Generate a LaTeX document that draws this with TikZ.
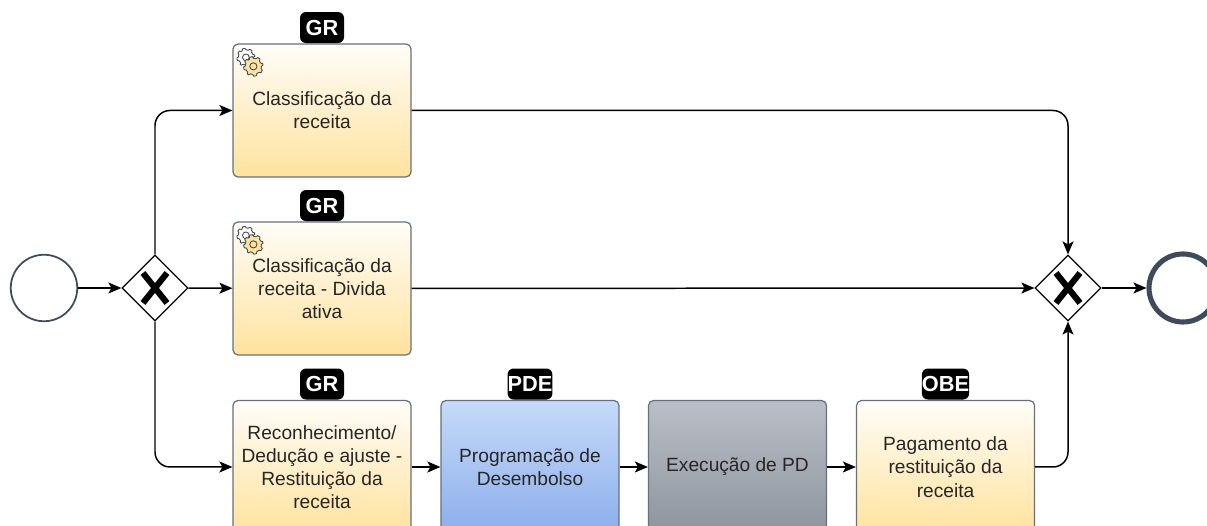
\documentclass[tikz,border=0pt]{standalone}
\usepackage{fontspec}
\setmainfont{Liberation Sans}
\usetikzlibrary{arrows.meta,shapes.geometric}

\definecolor{taskline}{HTML}{66707E}
\definecolor{eventline}{HTML}{3F4A5A}
\definecolor{tasktext}{HTML}{262626}
\definecolor{yellowtop}{HTML}{FFFDF8}
\definecolor{yellowend}{HTML}{FFE29E}
\definecolor{bluetop}{HTML}{C6DAF9}
\definecolor{blueend}{HTML}{8CAEEB}
\definecolor{graytop}{HTML}{B9BEC7}
\definecolor{grayend}{HTML}{8E949D}

\tikzset{
    task/.style={draw=taskline,line width=0.7pt,rounded corners=0.1cm,minimum width=3.56cm,minimum height=2.66cm,
        inner sep=2pt,align=center,text=tasktext,font=\fontsize{10.9}{13.2}\selectfont},
    yellowtask/.style={task,top color=yellowtop,bottom color=yellowend},
    bluetask/.style={task,top color=bluetop,bottom color=blueend},
    graytask/.style={task,top color=graytop,bottom color=grayend},
    roletag/.style={fill=black,text=white,rounded corners=0.12cm,minimum width=0.88cm,minimum height=0.62cm,
        inner sep=0pt,anchor=south,font=\fontsize{12.4}{14}\selectfont\bfseries},
    gateway/.style={diamond,draw=black,fill=white,line width=0.7pt,minimum size=1.32cm,inner sep=0pt,
        path picture={
            \draw[line width=3.5pt] (path picture bounding box.center) +(-0.24,-0.3) -- +(0.24,0.3);
            \draw[line width=3.5pt] (path picture bounding box.center) +(-0.24,0.3) -- +(0.24,-0.3);
        }},
    flow/.style={draw=black,line width=0.85pt,rounded corners=0.3cm,-{Stealth[length=0.26cm,width=0.22cm,inset=0.06cm]}}
}

% one toothed wheel of the service icon
\newcommand{\gearwheel}[4]{
    \filldraw[draw=eventline,fill=#4,line width=0.5pt,shift={(#1)}]
        plot[domain=0:352,samples=45,variable=\a] ({\a}:{#2+#3*(sin(8*\a)>0)}) -- cycle;
    \draw[draw=eventline,line width=0.5pt,shift={(#1)}] (0,0) circle ({#2*0.45});
}

\begin{document}
\begin{tikzpicture}
    \clip (0,0) rectangle (24.14,10.52);

    % Events and gateways
    \node[circle,draw=eventline,line width=1pt,minimum size=1.33cm,inner sep=0pt] (start) at (0.88,4.76) {};
    \node[gateway] (split) at (3.1,4.76) {};
    \node[gateway] (merge) at (21.36,4.76) {};
    \node[circle,draw=eventline,line width=2.9pt,minimum size=1.36cm,inner sep=0pt] (finish) at (23.66,4.76) {};

    % Tasks
    \node[yellowtask] (classif) at (6.44,8.31) {Classificação da\\receita};
    \node[yellowtask] (divida) at (6.44,4.75) {Classificação da\\receita - Divida\\ativa};
    \node[yellowtask] (reconhec) at (6.44,1.18) {Reconhecimento/\\Dedução e ajuste -\\Restituição da\\receita};
    \node[bluetask] (programa) at (10.6,1.18) {Programação de\\Desembolso};
    \node[graytask] (execucao) at (14.75,1.18) {Execução de PD};
    \node[yellowtask] (pagamento) at (18.91,1.18) {Pagamento da\\restituição da\\receita};

    % Role tags
    \node[roletag] (tagclassif) at (classif.north) {GR};
    \node[roletag] (tagdivida) at (divida.north) {GR};
    \node[roletag] (tagreconhec) at (reconhec.north) {GR};
    \node[roletag] (tagprograma) at (programa.north) {PDE};
    \node[roletag] (tagpagamento) at (pagamento.north) {OBE};

    % Service icons
    \foreach \task in {classif,divida} {
        \coordinate (wheelA) at ([shift={(0.27,-0.28)}]\task.north west);
        \coordinate (wheelB) at ([shift={(0.42,-0.46)}]\task.north west);
        \gearwheel{wheelA}{0.15}{0.03}{yellowtop}
        \gearwheel{wheelB}{0.16}{0.035}{yellowend}
    }

    % Sequence flows
    \draw[flow] (start) -- (split);
    \draw[flow] (split.north) |- (classif.west);
    \draw[flow] (split) -- (divida);
    \draw[flow] (split.south) |- (reconhec.west);
    \draw[flow] (classif.east) -| (merge.north);
    \draw[flow] (divida) -- (merge);
    \draw[flow] (reconhec) -- (programa);
    \draw[flow] (programa) -- (execucao);
    \draw[flow] (execucao) -- (pagamento);
    \draw[flow] (pagamento.east) -| (merge.south);
    \draw[flow] (merge) -- (finish);
\end{tikzpicture}
\end{document}
